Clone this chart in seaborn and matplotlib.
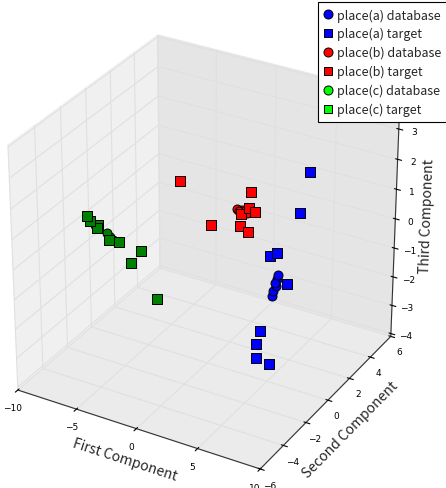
import matplotlib
matplotlib.use("Agg")
import matplotlib.pyplot as plt
import matplotlib.transforms as mtransforms
import pandas as pd
import seaborn as sns
from matplotlib.lines import Line2D

# --- data (three PCA components per sample) ---
places = ["place(a)", "place(b)", "place(c)"]

a_target_x = [6.31, 6.04, 5.16, 4.76, 5.51, 5.66, 5.83, 6.28, 7.03]
a_target_y = [2.1, 1.6, 0.6, 0.4, 1.1, -1.4, -1.9, -2.4, -2.1]
a_target_z = [2.42, 1.19, 0.10, 0.03, -1.08, -1.76, -1.98, -2.24, -2.46]
a_db_x = [5.07, 5.01, 5.04, 5.12, 4.97, 4.90]
a_db_y = [0.8, 0.8, 0.6, 0.6, 0.5, 0.5]
a_db_z = [-0.71, -0.86, -0.92, -1.02, -1.16, -1.34]

b_target_x = [-2.75, 2.78, 3.23, 3.78, 2.73, 0.31, 2.68, 3.34]
b_target_y = [0.5, 0.8, 0.2, 0.1, 0.0, 0.0, 0.0, 0.0]
b_target_z = [1.63, 1.77, 1.50, 1.48, 1.31, 0.68, 0.91, 0.79]
b_db_x = [2.40, 2.55, 2.70, 2.94, 3.23]
b_db_y = [0.0, 0.0, 0.1, 0.1, 0.0]
b_db_z = [1.43, 1.38, 1.41, 1.42, 1.42]

c_target_x = [-6.86, -6.68, -6.42, -6.36, -5.95, -5.45, -4.61, -5.01, -3.03]
c_target_y = [-3.1, -3.0, -2.6, -2.8, -2.2, -1.9, -0.9, -1.4, -1.2]
c_target_z = [1.18, 1.00, 0.77, 0.75, 0.18, 0.06, -0.46, -0.77, -1.82]
c_db_x = [-5.89, -5.88, -5.74, -6.38, -6.60]
c_db_y = [-2.4, -2.2, -2.1, -2.9, -3.0]
c_db_z = [0.48, 0.29, 0.17, 0.87, 1.01]

x_ticks = [-10, -5, 0, 5, 10]
y_ticks = [-6, -4, -2, 0, 2, 4, 6]
z_ticks = [-4, -3, -2, -1, 0, 1, 2, 3, 4]


def frame(place, kind, xs, ys, zs):
    return pd.DataFrame({"place": place, "kind": kind, "x": xs, "y": ys, "z": zs})


df = pd.concat([
    frame("place(a)", "database", a_db_x, a_db_y, a_db_z),
    frame("place(a)", "target", a_target_x, a_target_y, a_target_z),
    frame("place(b)", "database", b_db_x, b_db_y, b_db_z),
    frame("place(b)", "target", b_target_x, b_target_y, b_target_z),
    frame("place(c)", "database", c_db_x, c_db_y, c_db_z),
    frame("place(c)", "target", c_target_x, c_target_y, c_target_z),
], ignore_index=True)

sns.set_style("white")
plt.rcParams["font.family"] = ["Noto Sans CJK JP", "DejaVu Sans"]

point_colors = dict(zip(places, sns.color_palette(["#0000ff", "#ff0000", "#008000"])))
legend_colors = dict(zip(places, sns.color_palette(["#0000ff", "#ff0000", "#00ff00"])))
markers = {"database": "o", "target": "s"}
sizes = {"database": 42, "target": 62}

W, H = 446, 489
fig = plt.figure(figsize=(W / 100, H / 100), dpi=100)
ax = fig.add_subplot(projection="3d", computed_zorder=False)
ax.set_box_aspect((1, 1, 1), zoom=0.9089)
ax.view_init(30, -60)
ax.set_position([-0.1314, -0.0458, 1.1605, 1.0585])

for (place, kind), grp in df.groupby(["place", "kind"], sort=False):
    ax.scatter(grp["x"], grp["y"], grp["z"], color=point_colors[place], marker=markers[kind],
               s=sizes[kind], edgecolors="k", linewidths=0.7, depthshade=False)

ax.set_xlim(-10, 10)
ax.set_ylim(-6, 6)
ax.set_zlim(-4.1, 4.06)
ax.set_xticks(x_ticks)
ax.set_yticks(y_ticks)
ax.set_zticks(z_ticks)

for axis, col in [(ax.xaxis, "#f0f0f0"), (ax.yaxis, "#e5e5e5"), (ax.zaxis, "#ebebeb")]:
    axis.set_pane_color(col)
    axis._axinfo["grid"].update(color="#e0e0e0", linewidth=0.8)
    axis.line.set_color("#333333")
    axis.line.set_linewidth(0.8)
    for t in axis.get_ticklabels():
        t.set_fontfamily("DejaVu Sans")

ax.tick_params(labelsize=6.5, colors="black")
ax.tick_params(axis="x", pad=-1)
ax.tick_params(axis="y", pad=-1)
ax.tick_params(axis="z", pad=0)

ax.set_xlabel("First Component", fontsize=10, labelpad=-5)
ax.set_ylabel("Second Component", fontsize=10, labelpad=-3)
ax.set_zlabel("Third Component", fontsize=10, labelpad=-4)

# nudge the x tick labels and x label to the right, as in the original layout
shift = mtransforms.ScaledTranslation(5 / 100, 0, fig.dpi_scale_trans)
for t in ax.xaxis.get_ticklabels():
    t.set_transform(t.get_transform() + shift)
label_shift = mtransforms.ScaledTranslation(8 / 100, 0, fig.dpi_scale_trans)
ax.xaxis.label.set_transform(ax.xaxis.label.get_transform() + label_shift)

handles = []
for place in places:
    for kind in ["database", "target"]:
        handles.append(Line2D([], [], ls="", marker=markers[kind], ms=6.5 if kind == "database" else 6,
                              mfc=legend_colors[place], mec="k", mew=0.7, label=f"{place} {kind}"))
leg = fig.legend(handles=handles, loc="upper left", bbox_to_anchor=(318 / W, 1 - 3 / H),
                 fontsize=9, frameon=True, fancybox=False, borderaxespad=0, borderpad=0.5,
                 handlelength=0.6, handletextpad=0.4, labelspacing=0.45)
leg.get_frame().set_edgecolor("black")
leg.get_frame().set_linewidth(0.8)
leg.get_frame().set_alpha(1)

fig.savefig("out.png", dpi=100)
